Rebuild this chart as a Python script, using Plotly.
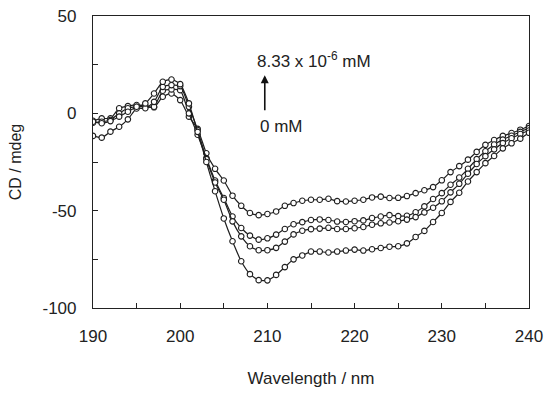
import plotly.graph_objects as go

wavelength = list(range(190, 241))

cd_a = [-3.8, -2.6, -2.6, 2.6, 3.7, 4.3, 3.7, 3.1, 8.5, 10.2,
        6.8, -1.7, -8.0, -20.5, -28.5, -34.5, -42.3, -47.5, -51.2, -52.3,
        -51.7, -50.4, -47.5, -46.1, -44.9, -44.4, -44.4, -43.9, -45.1, -45.3,
        -44.9, -44.4, -43.2, -42.8, -43.5, -43.4, -42.5, -41.0, -39.5, -37.9,
        -34.4, -30.2, -27.1, -23.8, -19.8, -16.2, -13.7, -11.6, -10.1, -8.4,
        -6.5]

cd_b = [-4.8, -4.3, -3.4, 0.0, 2.6, 3.4, 3.4, 3.4, 11.6, 12.3,
        11.9, 0.0, -11.0, -23.0, -34.5, -43.5, -53.0, -58.9, -62.8, -64.9,
        -64.2, -62.3, -59.4, -57.0, -55.9, -54.8, -54.5, -54.8, -55.6, -55.8,
        -55.4, -55.0, -53.8, -53.0, -52.3, -52.8, -52.6, -50.8, -47.8, -44.0,
        -41.0, -36.7, -33.0, -28.5, -23.5, -19.5, -16.0, -13.5, -11.5, -9.5,
        -7.6]

cd_c = [-11.6, -12.5, -9.4, -6.9, -3.1, 2.5, 2.6, 5.9, 13.6, 14.5,
        14.0, 3.4, -8.6, -23.5, -35.5, -44.4, -55.5, -63.2, -68.3, -70.3,
        -70.3, -69.1, -65.9, -62.2, -60.3, -59.5, -59.2, -58.8, -59.4, -59.4,
        -59.0, -58.4, -57.2, -56.5, -56.1, -55.4, -54.6, -53.3, -50.9, -48.5,
        -45.2, -40.6, -36.2, -31.0, -26.0, -22.0, -18.5, -15.3, -12.8, -10.6,
        -8.8]

cd_d = [-4.3, -5.1, -4.0, -1.7, 0.8, 3.4, 5.1, 10.2, 16.2, 17.4,
        15.0, 5.1, -9.5, -25.0, -40.0, -54.0, -65.7, -76.0, -82.6, -85.7,
        -85.8, -83.0, -79.0, -75.0, -73.0, -71.0, -71.0, -71.5, -71.0, -70.5,
        -70.0, -70.5, -69.8, -69.2, -68.5, -68.3, -66.8, -63.5, -60.4, -55.8,
        -51.2, -45.5, -40.8, -35.0, -30.2, -25.6, -21.9, -18.0, -15.4, -13.0,
        -10.0]

series = [cd_a, cd_b, cd_c, cd_d]

x_ticks = [190, 200, 210, 220, 230, 240]
y_ticks = [-100, -50, 0, 50]
y_tick_labels = ["-100", "-50", "0", "50"]

FONT = "Liberation Sans, Arial, sans-serif"
INK = "#1e1e1e"

fig = go.Figure()
for s in series:
    fig.add_trace(go.Scatter(
        x=wavelength, y=s, mode="lines+markers",
        line=dict(color=INK, width=1.2, shape="spline", smoothing=0.6),
        marker=dict(symbol="circle", size=5.5, color="white",
                    line=dict(color=INK, width=1.1)),
        showlegend=False, hoverinfo="x+y"))

axis_common = dict(showgrid=False, zeroline=False, showline=True,
                   linecolor="#222", linewidth=1.2, mirror=True,
                   ticks="inside", ticklen=5, tickcolor="#222",
                   automargin=False,
                   tickfont=dict(family=FONT, size=17, color="#222"))

fig.update_xaxes(range=[190, 240], tickvals=x_ticks,
                 minor=dict(dtick=5, tick0=190, ticks="inside", ticklen=5, tickcolor="#222"),
                 ticklabelstandoff=12,
                 title=dict(text="Wavelength / nm", standoff=27,
                            font=dict(family=FONT, size=17, color="#222")),
                 **axis_common)
fig.update_yaxes(range=[-100, 50], tickvals=y_ticks, ticktext=y_tick_labels,
                 minor=dict(dtick=25, tick0=0, ticks="inside", ticklen=5, tickcolor="#222"),
                 ticklabelstandoff=12,
                 title=dict(text="CD / mdeg", standoff=16,
                            font=dict(family=FONT, size=16, color="#222")),
                 **axis_common)

fig.add_annotation(x=209.7, y=19.6, ax=209.7, ay=0.8, axref="x", ayref="y",
                   xref="x", yref="y", text="", showarrow=True,
                   arrowhead=2, arrowsize=1, arrowwidth=1.6, arrowcolor="#111")
fig.add_annotation(x=208.6, y=27.5, xref="x", yref="y", xanchor="left",
                   text="8.33 x 10<sup>-6</sup> mM", showarrow=False,
                   font=dict(family=FONT, size=17, color="#222"))
fig.add_annotation(x=208.9, y=-7.0, xref="x", yref="y", xanchor="left",
                   text="0 mM", showarrow=False,
                   font=dict(family=FONT, size=17, color="#222"))

fig.update_layout(width=550, height=393,
                  margin=dict(l=93, r=21, t=16, b=85),
                  paper_bgcolor="white", plot_bgcolor="white",
                  font=dict(family=FONT, color="#222"))

fig.write_html("out.html", config={"displayModeBar": False},
               post_script="document.body.style.margin='0';document.body.style.overflow='hidden';")
